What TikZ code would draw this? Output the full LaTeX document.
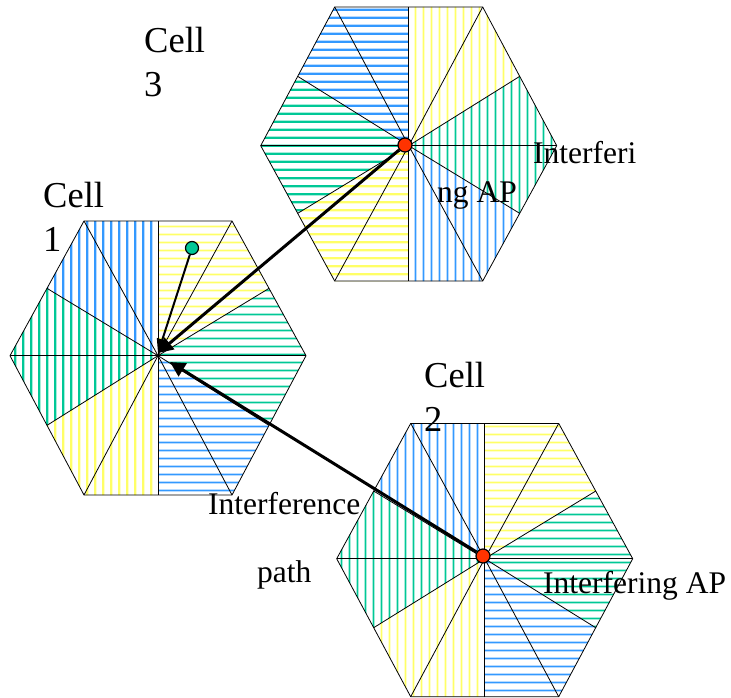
\documentclass[tikz,border=0pt]{standalone}
\usepackage{fontspec}
\setmainfont{Liberation Serif}
\usetikzlibrary{arrows.meta}
\definecolor{hexyellow}{HTML}{FFFF66}
\definecolor{hexgreen}{HTML}{00C896}
\definecolor{hexblue}{HTML}{3399FF}
\definecolor{apred}{HTML}{FF3300}
\newcommand{\hexphase}{0}
\newcommand{\hexhatchH}[1]{%
  \foreach \k in {-18,...,18}{%
    \draw[line width=3pt,#1!35] (-150,8*\k+\hexphase) -- (150,8*\k+\hexphase);
    \draw[line width=1.4pt,#1] (-150,8*\k+\hexphase) -- (150,8*\k+\hexphase);
  }}
\newcommand{\hexhatchV}[1]{%
  \foreach \k in {1,...,19}{%
    \draw[line width=3pt,#1!35] (8*\k-1,-142) -- (8*\k-1,142);
    \draw[line width=1.4pt,#1] (8*\k-1,-142) -- (8*\k-1,142);
    \draw[line width=3pt,#1!35] (-8*\k+1,-142) -- (-8*\k+1,142);
    \draw[line width=1.4pt,#1] (-8*\k+1,-142) -- (-8*\k+1,142);
  }}
\newcommand{\hexsector}[3]{%
  \begin{scope}
    \clip #1 -- cycle;
    \csname hexhatch#3\endcsname{#2}
  \end{scope}}
% centre x, centre y, top distance, bottom distance, right hatch, left hatch, phase
\newcommand{\hexcell}[7]{%
  \renewcommand{\hexphase}{#7}%
  \begin{scope}[shift={(#1,#2)}]
    \hexsector{(0,0) -- (0,-#3) -- (74,-#3) -- (111,-#3/2)}{hexyellow}{#5}
    \hexsector{(0,0) -- (111,-#3/2) -- (148,0) -- (111,#4/2)}{hexgreen}{#5}
    \hexsector{(0,0) -- (111,#4/2) -- (74,#4) -- (0,#4)}{hexblue}{#5}
    \hexsector{(0,0) -- (0,#4) -- (-74,#4) -- (-111,#4/2)}{hexyellow}{#6}
    \hexsector{(0,0) -- (-111,#4/2) -- (-148,0) -- (-111,-#3/2)}{hexgreen}{#6}
    \hexsector{(0,0) -- (-111,-#3/2) -- (-74,-#3) -- (0,-#3)}{hexblue}{#6}
    \draw[hexline] (148,0) -- (74,#4) -- (-74,#4) -- (-148,0) -- (-74,-#3) -- (74,-#3) -- cycle;
    \foreach \p in {(148,0),(74,#4),(-74,#4),(-148,0),(-74,-#3),(74,-#3),(0,#4),(0,-#3),(111,#4/2),(111,-#3/2),(-111,#4/2),(-111,-#3/2)}{
      \draw[hexline] (0,0) -- \p;
    }
  \end{scope}}
\tikzset{
  hexline/.style={line width=0.8pt,black},
  bigtext/.style={anchor=base west,inner sep=0pt,font=\fontsize{36.5}{40}\selectfont},
  labeltext/.style={anchor=base west,inner sep=0pt,font=\fontsize{31.5}{36}\selectfont},
  apdot/.style={circle,draw=black,line width=1.2pt,fill=#1,minimum size=14pt,inner sep=0pt},
  patharrow/.style={black,line width=3pt,-{Triangle[length=15pt,width=15pt]}},
  uearrow/.style={black,line width=2pt,-{Triangle[length=14pt,width=11pt]}},
}
\begin{document}
\begin{tikzpicture}[x=1pt,y=-1pt]
\useasboundingbox[fill=white] (0,0) rectangle (731,698);
\hexcell{158}{355.7}{134.7}{139.3}{H}{V}{-1}
\hexcell{408.7}{145.7}{138.7}{135.3}{V}{H}{0.3}
\hexcell{484.7}{558.7}{135.3}{138}{H}{V}{3.5}
\coordinate (target1) at (158,353);
\coordinate (target2) at (170,362);
\node[apdot=apred] (ap3) at (405,145) {};
\node[apdot=apred] (ap2) at (483,556) {};
\node[apdot=hexgreen,minimum size=13pt] (ue) at (192,248) {};
\draw[patharrow] (ap3) -- (target1);
\draw[patharrow] (ap2) -- (target2);
\draw[uearrow] (ue) -- (target1);
\node[bigtext] (c3a) at (144,53) {Cell};
\node[bigtext] (c3b) at (144,97) {3};
\node[bigtext] (c1a) at (43,207) {Cell};
\node[bigtext] (c1b) at (43,251) {1};
\node[bigtext] (c2a) at (424,387) {Cell};
\node[bigtext] (c2b) at (424,431) {2};
\node[labeltext] (i3a) at (533,164) {Interferi};
\node[labeltext] (i3b) at (437,202) {ng AP};
\node[labeltext] (p1) at (208,514) {Interference};
\node[labeltext] (p2) at (257,582) {path};
\node[labeltext] (i2) at (543,593) {Interfering AP};
\end{tikzpicture}
\end{document}
